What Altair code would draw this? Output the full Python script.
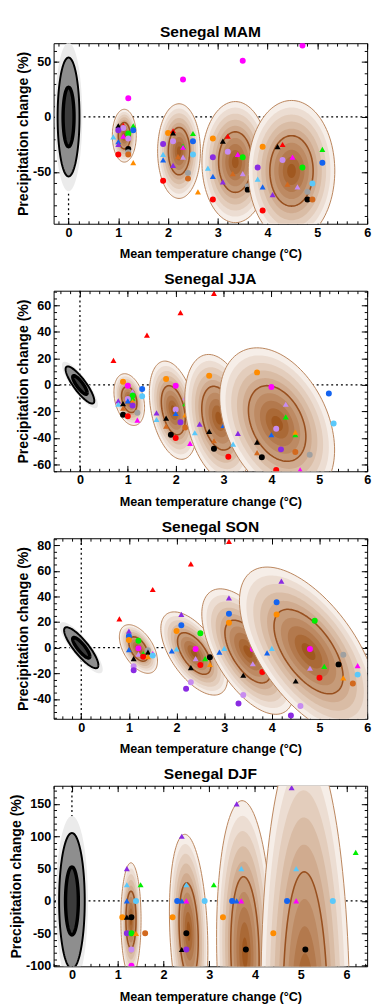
import altair as alt
import numpy as np
import pandas as pd

FONT = "Liberation Sans"
W, H = 323, 186

COLOR_HEX = {"R": "#FF0000", "O": "#FF8C00", "K": "#000000", "G": "#00EE00",
             "M": "#FF00FF", "B": "#1464F0", "LB": "#5AC8FA", "P": "#8A2BE2",
             "L": "#C78CF0", "GR": "#A0A0A0", "CH": "#D2691E"}
SHAPE_NAME = {"c": "circle", "t": "triangle-up"}

BROWNS = ["#F6EEE8", "#ECDDD2", "#E3CDBC", "#D9BCA5", "#D0AB8F",
          "#C69B79", "#BD8A63", "#B3794D", "#AA6936", "#A05820"]
LEVEL_SCALES = [1.0, 0.9, 0.8, 0.7, 0.6, 0.5, 0.4, 0.3, 0.2, 0.1]
OUTER_RING = "#B9835A"
INNER_RING = "#98501F"
CLOUD_FILLS = ["#EBEBEB", "#8E8E8E", "#3C3C3C"]
CLOUD_SCALES = [1.25, 1.0, 0.5]

X_TICKS = [0, 1, 2, 3, 4, 5, 6]

# ---------------- MAM ----------------
MAM_XDOM = [-0.3, 6.0]
MAM_YDOM = [-97, 67]
MAM_YTICKS = [-50, 0, 50]
MAM_YMINOR = 10
MAM_CLOUD = (0.0, 0.0, 0.22, 54, 0.0)
# (cx, cy, rx, ry, rho) per period
MAM_ELL = [(1.12, -17, 0.24, 24, 0.0), (2.22, -31, 0.43, 43, 0.0),
           (3.35, -41, 0.67, 55, 0.0), (4.48, -49, 0.87, 64, 0.0)]
# (period, colour, shape, dT, dP)
MAM_PTS = [
    (1, "M", "c", 1.2, 17), (1, "K", "t", 1.0, -8), (1, "R", "t", 1.1, -7.5),
    (1, "L", "c", 1.1, -10), (1, "P", "c", 1.0, -12), (1, "G", "t", 1.3, -8),
    (1, "B", "c", 1.3, -12), (1, "G", "c", 1.2, -15), (1, "LB", "t", 0.9, -18),
    (1, "M", "t", 1.1, -17.5), (1, "L", "c", 1.2, -19.5), (1, "B", "t", 1.0, -22.5),
    (1, "P", "t", 1.0, -25), (1, "K", "c", 1.2, -29), (1, "GR", "c", 1.2, -32),
    (1, "CH", "c", 1.2, -34), (1, "R", "c", 1.0, -34), (1, "O", "t", 1.3, -41.5),
    (2, "M", "c", 2.3, 34), (2, "O", "c", 2.0, -14.5), (2, "R", "t", 2.1, -12.5),
    (2, "K", "t", 2.1, -14.5), (2, "G", "t", 2.5, -15), (2, "P", "c", 1.9, -24.5),
    (2, "L", "c", 2.1, -22), (2, "B", "c", 2.5, -22), (2, "G", "t", 2.3, -26.5),
    (2, "M", "t", 2.3, -27.5), (2, "L", "t", 2.3, -36.5), (2, "CH", "t", 2.2, -36),
    (2, "LB", "t", 1.9, -34), (2, "B", "t", 1.9, -39), (2, "LB", "c", 2.5, -34),
    (2, "P", "t", 2.1, -44), (2, "GR", "c", 2.4, -51), (2, "CH", "c", 2.4, -56),
    (2, "R", "c", 1.9, -58), (2, "O", "t", 2.6, -68),
    (3, "M", "c", 3.5, 51), (3, "O", "c", 2.9, -19.5), (3, "R", "t", 3.2, -17.5),
    (3, "K", "t", 3.1, -22), (3, "P", "c", 2.9, -36.5), (3, "L", "c", 3.2, -31.5),
    (3, "M", "t", 3.4, -34), (3, "G", "c", 3.5, -36.5), (3, "LB", "t", 2.8, -46.5),
    (3, "B", "t", 2.9, -54), (3, "CH", "t", 3.3, -51.5), (3, "L", "t", 3.5, -51.5),
    (3, "P", "t", 3.1, -59), (3, "GR", "c", 3.6, -63), (3, "K", "c", 3.6, -66),
    (3, "R", "c", 2.9, -75),
    (4, "M", "c", 4.7, 65), (4, "O", "c", 3.9, -27), (4, "K", "t", 4.2, -27),
    (4, "R", "t", 4.3, -25), (4, "L", "c", 4.3, -39), (4, "M", "t", 4.5, -36.5),
    (4, "G", "c", 4.7, -46), (4, "G", "t", 5.1, -29.5), (4, "B", "c", 5.1, -41.5),
    (4, "P", "c", 3.8, -46), (4, "LB", "t", 3.8, -56.5), (4, "B", "t", 3.9, -63.5),
    (4, "CH", "t", 4.4, -61), (4, "L", "t", 4.6, -63.5), (4, "LB", "c", 4.9, -60.5),
    (4, "GR", "c", 4.8, -68), (4, "P", "t", 4.1, -70.5), (4, "K", "c", 4.8, -75),
    (4, "CH", "c", 4.9, -75), (4, "R", "c", 3.9, -85),
]

# ---------------- JJA ----------------
JJA_XDOM = [-0.55, 6.0]
JJA_YDOM = [-65, 71]
JJA_YTICKS = [-60, -40, -20, 0, 20, 40, 60]
JJA_YMINOR = 5
JJA_CLOUD = (0.0, 0.0, 0.3, 14, -0.85)
JJA_ELL = [(1.03, -11, 0.32, 19.5, -0.3), (1.95, -19, 0.5, 37, -0.35),
           (2.9, -25, 0.71, 48, -0.3), (4.12, -29, 1.2, 57, -0.35)]
JJA_PTS = [
    (1, "R", "t", 0.7, 18.5), (1, "O", "c", 0.9, 2.5), (1, "M", "c", 1.0, -0.5),
    (1, "L", "t", 1.1, -5), (1, "G", "c", 1.1, -8), (1, "G", "t", 1.1, -10),
    (1, "O", "t", 1.1, -12.5), (1, "P", "c", 1.1, -15.5), (1, "L", "c", 1.0, -10.5),
    (1, "B", "t", 1.0, -12), (1, "B", "c", 1.3, -3), (1, "LB", "c", 1.3, -8.5),
    (1, "P", "t", 0.8, -12), (1, "LB", "t", 0.8, -14.5), (1, "K", "t", 0.9, -14),
    (1, "CH", "t", 0.9, -17.5), (1, "K", "c", 0.9, -22.5), (1, "R", "c", 1.0, -23.5),
    (1, "GR", "c", 1.2, -21), (1, "M", "t", 1.2, -26.5),
    (2, "R", "t", 1.4, 37.5), (2, "O", "c", 1.8, 4.5), (2, "M", "c", 2.0, -0.5),
    (2, "L", "t", 2.2, -9.5), (2, "G", "t", 2.2, -14), (2, "L", "c", 2.0, -18.5),
    (2, "B", "t", 2.0, -21.5), (2, "O", "t", 2.2, -22.5), (2, "P", "c", 2.1, -28),
    (2, "CH", "c", 2.2, -32), (2, "P", "t", 1.6, -21), (2, "LB", "t", 1.6, -26),
    (2, "K", "t", 1.8, -25), (2, "CH", "t", 1.8, -31), (2, "K", "c", 1.9, -37.5),
    (2, "R", "c", 2.0, -40), (2, "M", "t", 2.3, -44),
    (3, "R", "t", 2.1, 54.5), (3, "O", "c", 2.7, 7), (3, "P", "t", 2.5, -29.5),
    (3, "K", "t", 2.7, -35), (3, "B", "t", 3.0, -30.5), (3, "CH", "t", 2.8, -42),
    (3, "K", "c", 2.8, -48), (3, "R", "c", 3.1, -54), (3, "LB", "t", 2.4, -36),
    (4, "R", "t", 2.8, 69), (4, "LB", "t", 3.2, -44.5), (4, "P", "t", 3.3, -36.5),
    (4, "O", "c", 3.7, 9.5), (4, "M", "c", 4.0, -1.5), (4, "L", "t", 4.3, -14.5),
    (4, "G", "t", 4.3, -24), (4, "L", "c", 4.1, -33), (4, "B", "t", 4.0, -37.5),
    (4, "G", "t", 4.5, -37.5), (4, "O", "t", 4.5, -35.5), (4, "K", "t", 3.7, -43),
    (4, "CH", "t", 3.7, -51), (4, "K", "c", 3.8, -54.5), (4, "P", "c", 4.2, -48.5),
    (4, "CH", "c", 4.5, -50.5), (4, "GR", "c", 4.8, -52.5), (4, "R", "c", 4.1, -64),
    (4, "M", "t", 4.6, -64), (4, "B", "c", 5.2, -6.5), (4, "LB", "c", 5.3, -29),
]

# ---------------- SON ----------------
SON_XDOM = [-0.58, 6.0]
SON_YDOM = [-55.5, 85.5]
SON_YTICKS = [-40, -20, 0, 20, 40, 60, 80]
SON_YMINOR = 5
SON_CLOUD = (0.0, 0.0, 0.36, 16, -0.85)
SON_ELL = [(1.2, -1, 0.4, 19, -0.5), (2.37, -4.5, 0.7, 32.5, -0.6),
           (3.5, -3, 0.97, 49, -0.6), (4.77, -3, 1.45, 66, -0.6)]
SON_PTS = [
    (1, "R", "t", 0.8, 22.5), (1, "P", "t", 1.0, 13), (1, "B", "c", 1.0, 9),
    (1, "O", "c", 1.0, 6), (1, "G", "c", 1.2, 5.5), (1, "B", "t", 1.0, -1.5),
    (1, "M", "c", 1.2, -0.5), (1, "GR", "c", 1.4, -2), (1, "K", "t", 1.4, -3.5),
    (1, "L", "t", 1.2, -5), (1, "G", "t", 1.3, -4.5), (1, "R", "c", 1.3, -7),
    (1, "O", "t", 1.4, -7), (1, "M", "t", 1.5, -4.5), (1, "LB", "c", 1.5, -6),
    (1, "K", "t", 1.1, -8.5), (1, "L", "c", 1.1, -14.5), (1, "P", "c", 1.1, -17.5),
    (2, "R", "t", 1.5, 45.5), (2, "P", "t", 2.1, 26), (2, "B", "c", 2.1, 17.5),
    (2, "O", "c", 2.0, 13), (2, "G", "c", 2.5, 11.3), (2, "B", "t", 1.9, -2.5),
    (2, "LB", "t", 2.0, -1), (2, "M", "c", 2.4, -1), (2, "L", "t", 2.4, -8.5),
    (2, "G", "t", 2.6, -8.5), (2, "K", "c", 2.7, -7.5), (2, "R", "c", 2.5, -13.5),
    (2, "O", "t", 2.7, -13), (2, "K", "t", 2.3, -15.5), (2, "L", "c", 2.3, -27),
    (2, "P", "c", 2.2, -32),
    (3, "R", "t", 2.3, 65.5), (3, "P", "t", 3.1, 39), (3, "B", "c", 3.1, 26.5),
    (3, "O", "c", 3.1, 19.5), (3, "B", "t", 2.9, -3.5), (3, "LB", "t", 3.0, -0.5),
    (3, "M", "c", 3.6, -1), (3, "L", "t", 3.6, -12.5), (3, "K", "t", 3.4, -21.5),
    (3, "R", "c", 3.8, -19), (3, "L", "c", 3.4, -37), (3, "P", "c", 3.3, -43.5),
    (4, "R", "t", 3.1, 83), (4, "P", "t", 4.2, 52), (4, "B", "c", 4.1, 35.5),
    (4, "O", "c", 4.1, 26), (4, "G", "c", 4.9, 21), (4, "B", "t", 3.9, -4),
    (4, "LB", "t", 4.0, -0.5), (4, "M", "c", 4.8, -1), (4, "L", "t", 4.8, -16),
    (4, "G", "t", 5.1, -14.5), (4, "R", "c", 5.0, -23.5), (4, "K", "t", 4.5, -26),
    (4, "GR", "c", 5.5, -5.5), (4, "K", "c", 5.4, -13), (4, "M", "t", 5.8, -14),
    (4, "LB", "c", 5.8, -21), (4, "O", "t", 5.5, -23.5), (4, "CH", "c", 5.7, -28),
    (4, "L", "c", 4.6, -45.5), (4, "P", "c", 4.4, -53),
]

# ---------------- DJF ----------------
DJF_XDOM = [-0.4, 6.45]
DJF_YDOM = [-101, 178]
DJF_YTICKS = [-100, -50, 0, 50, 100, 150]
DJF_YMINOR = 10
DJF_CLOUD = (0.0, 0.0, 0.28, 105, 0.0)
DJF_ELL = [(1.29, -29, 0.22, 88, 0.0), (2.55, -47, 0.42, 150, -0.2),
           (3.78, -80, 0.62, 235, -0.1), (5.1, -165, 0.97, 420, -0.05)]
DJF_PTS = [
    (1, "P", "t", 1.2, 50), (1, "LB", "t", 1.2, 25), (1, "G", "t", 1.5, 25),
    (1, "B", "t", 1.2, 0), (1, "LB", "c", 1.4, 0), (1, "O", "c", 1.1, -25),
    (1, "K", "t", 1.2, -25), (1, "K", "c", 1.3, -25), (1, "P", "c", 1.2, -50),
    (1, "G", "c", 1.3, -50), (1, "O", "t", 1.4, -50), (1, "CH", "c", 1.6, -50),
    (1, "L", "c", 1.3, -75), (1, "M", "c", 1.3, -100),
    (2, "P", "t", 2.4, 100), (2, "LB", "t", 2.5, 25), (2, "G", "t", 3.1, 25),
    (2, "B", "c", 2.3, 0), (2, "B", "t", 2.4, 0), (2, "M", "t", 2.5, 0),
    (2, "LB", "c", 2.9, 0), (2, "O", "c", 2.2, -25), (2, "K", "c", 2.5, -50),
    (2, "K", "t", 2.4, -75), (2, "P", "c", 2.5, -75),
    (3, "P", "t", 3.6, 150), (3, "LB", "t", 3.7, 50), (3, "B", "c", 3.5, 0),
    (3, "B", "t", 3.6, 0), (3, "M", "t", 3.7, 0), (3, "O", "c", 3.3, -25),
    (3, "K", "c", 3.8, -75),
    (4, "P", "t", 4.8, 175), (4, "LB", "t", 4.9, 50), (4, "B", "c", 4.7, 0),
    (4, "M", "t", 4.9, 0), (4, "LB", "c", 5.7, 0), (4, "G", "t", 6.2, 75),
    (4, "O", "c", 4.4, -50), (4, "K", "c", 5.1, -75),
]


def band(cx, cy, rx, ry, rho, s, n=90):
    th = np.linspace(0, np.pi, n)
    u = -np.cos(th)
    w = np.sin(th)
    c = np.sqrt(1 - rho ** 2)
    return (cx + s * rx * u, cy + s * ry * (rho * u - c * w), cy + s * ry * (rho * u + c * w))


def ring(cx, cy, rx, ry, rho, s, n=120):
    t = np.linspace(0, 2 * np.pi, n + 1)
    c = np.sqrt(1 - rho ** 2)
    return cx + s * rx * np.cos(t), cy + s * ry * (rho * np.cos(t) + c * np.sin(t))


LABEL_EXPR = "'' + datum.value"


def panel(title, xdom, ydom, yticks, ystep, cloud, ells, pts):
    xs = alt.Scale(domain=xdom, nice=False, zero=False)
    ys = alt.Scale(domain=ydom, nice=False, zero=False)

    arows = []
    for p, (cx, cy, rx, ry, rho) in enumerate(ells, start=1):
        for lv, s in enumerate(LEVEL_SCALES):
            xx, lo, hi = band(cx, cy, rx, ry, rho, s)
            for a, b, c in zip(xx, lo, hi):
                arows.append({"p": p, "lv": lv, "x": a, "ylo": b, "yhi": c})
    adf = pd.DataFrame(arows)

    rrows = []
    for p, (cx, cy, rx, ry, rho) in enumerate(ells, start=1):
        for k, (s, col, sw) in enumerate([(1.0, OUTER_RING, 1.0), (0.5, INNER_RING, 1.6)]):
            xx, yy = ring(cx, cy, rx, ry, rho, s)
            for i, (a, b) in enumerate(zip(xx, yy)):
                rrows.append({"p": p, "ring": f"{p}-{k}", "i": i, "x": a, "y": b, "col": col, "sw": sw})
    rdf = pd.DataFrame(rrows)

    crows = []
    for lv, s in enumerate(CLOUD_SCALES):
        xx, lo, hi = band(*cloud, s)
        for a, b, c in zip(xx, lo, hi):
            crows.append({"clv": lv, "x": a, "ylo": b, "yhi": c})
    cdf = pd.DataFrame(crows)
    crrows = []
    for k, (s, sw) in enumerate([(1.0, 2.0), (0.5, 3.5)]):
        xx, yy = ring(*cloud, s)
        for i, (a, b) in enumerate(zip(xx, yy)):
            crrows.append({"ring": k, "i": i, "x": a, "y": b, "sw": sw})
    crdf = pd.DataFrame(crrows)

    pdf = pd.DataFrame([{"p": p, "col": COLOR_HEX[c], "shp": SHAPE_NAME[s], "x": x, "y": y}
                        for (p, c, s, x, y) in pts])

    X = lambda f: alt.X(f, scale=xs, axis=None)
    Y = lambda f: alt.Y(f, scale=ys, axis=None, stack=None)

    layers = []
    zero = pd.DataFrame({"v": [0.0]})
    layers.append(alt.Chart(zero).mark_rule(color="black", strokeDash=[2, 3], strokeWidth=1.3)
                  .encode(x=X("v:Q")))
    layers.append(alt.Chart(zero).mark_rule(color="black", strokeDash=[2, 3], strokeWidth=1.3)
                  .encode(y=Y("v:Q")))
    layers.append(alt.Chart(cdf).mark_area(clip=True).encode(
        x=X("x:Q"), y=Y("ylo:Q"), y2="yhi:Q",
        color=alt.Color("clv:O", scale=alt.Scale(domain=[0, 1, 2], range=CLOUD_FILLS), legend=None)))
    layers.append(alt.Chart(crdf).mark_line(clip=True, color="black").encode(
        x=X("x:Q"), y=Y("y:Q"), detail="ring:N", order="i:Q",
        strokeWidth=alt.StrokeWidth("sw:Q", scale=None)))
    for p in range(1, 5):
        layers.append(alt.Chart(adf).transform_filter(alt.datum.p == p).mark_area(clip=True).encode(
            x=X("x:Q"), y=Y("ylo:Q"), y2="yhi:Q",
            color=alt.Color("lv:O", scale=alt.Scale(domain=list(range(10)), range=BROWNS), legend=None)))
        layers.append(alt.Chart(rdf).transform_filter(alt.datum.p == p).mark_line(clip=True).encode(
            x=X("x:Q"), y=Y("y:Q"), detail="ring:N", order="i:Q",
            stroke=alt.Stroke("col:N", scale=None),
            strokeWidth=alt.StrokeWidth("sw:Q", scale=None)))
        layers.append(alt.Chart(pdf).transform_filter(alt.datum.p == p)
                      .mark_point(filled=True, size=38, opacity=1, clip=True).encode(
            x=X("x:Q"), y=Y("y:Q"),
            fill=alt.Fill("col:N", scale=None),
            shape=alt.Shape("shp:N", scale=None)))

    axdf = pd.DataFrame({"x": [xdom[0]], "y": [ydom[0]]})
    base = alt.Chart(axdf).mark_point(opacity=0)
    xminor = [round(v, 2) for v in np.arange(np.ceil(xdom[0] / 0.2) * 0.2, xdom[1] + 1e-9, 0.2)]
    yminor = [float(v) for v in np.arange(np.ceil(ydom[0] / ystep) * ystep, ydom[1] + 1e-9, ystep)]
    layers.append(base.encode(
        x=alt.X("x:Q", scale=xs, axis=alt.Axis(
            values=X_TICKS, orient="bottom", ticks=False, domain=False, grid=False,
            labelPadding=3, labelFlush=False, labelOverlap=False, labelExpr=LABEL_EXPR,
            title="Mean temperature change (°C)", titlePadding=9)),
        y=alt.Y("y:Q", scale=ys, axis=alt.Axis(
            values=yticks, orient="left", ticks=False, domain=False, grid=False,
            labelPadding=3, labelFlush=False, labelOverlap=False, labelExpr=LABEL_EXPR,
            title="Precipitation change (%)", titlePadding=2, titleFontSize=14.5))))

    def tick_layer(xo, yo, xv, yv, size):
        return base.encode(
            x=alt.X("x:Q", scale=xs, axis=alt.Axis(
                values=xv, orient=xo, offset=-H, tickSize=size, labels=False,
                domain=False, grid=False, title=None, minExtent=0, maxExtent=0)),
            y=alt.Y("y:Q", scale=ys, axis=alt.Axis(
                values=yv, orient=yo, offset=-W, tickSize=size, labels=False,
                domain=False, grid=False, title=None, minExtent=0, maxExtent=0)))

    layers.append(tick_layer("top", "right", X_TICKS, yticks, 6))
    layers.append(tick_layer("bottom", "left", X_TICKS, yticks, 6))
    layers.append(tick_layer("top", "right", xminor, yminor, 3))
    layers.append(tick_layer("bottom", "left", xminor, yminor, 3))

    return (alt.layer(*layers)
            .resolve_axis(x="independent", y="independent")
            .resolve_scale(color="independent")
            .properties(width=W, height=H, title=title))


panels = [
    panel("Senegal MAM", MAM_XDOM, MAM_YDOM, MAM_YTICKS, MAM_YMINOR, MAM_CLOUD, MAM_ELL, MAM_PTS),
    panel("Senegal JJA", JJA_XDOM, JJA_YDOM, JJA_YTICKS, JJA_YMINOR, JJA_CLOUD, JJA_ELL, JJA_PTS),
    panel("Senegal SON", SON_XDOM, SON_YDOM, SON_YTICKS, SON_YMINOR, SON_CLOUD, SON_ELL, SON_PTS),
    panel("Senegal DJF", DJF_XDOM, DJF_YDOM, DJF_YTICKS, DJF_YMINOR, DJF_CLOUD, DJF_ELL, DJF_PTS),
]

chart = (alt.vconcat(*panels, spacing=9)
         .properties(padding={"left": 0, "top": 0, "right": 0, "bottom": 0})
         .configure_view(stroke="black", strokeWidth=1)
         .configure_axis(labelFont=FONT, titleFont=FONT, labelFontSize=13, titleFontSize=13,
                         labelFontWeight="bold", titleFontWeight="bold", labelColor="black",
                         titleColor="black", tickColor="black", tickWidth=1)
         .configure_title(font=FONT, fontSize=16, fontWeight="bold", color="black",
                          anchor="middle", offset=3))

chart.save("out.html", embed_options={"renderer": "svg", "actions": False})
